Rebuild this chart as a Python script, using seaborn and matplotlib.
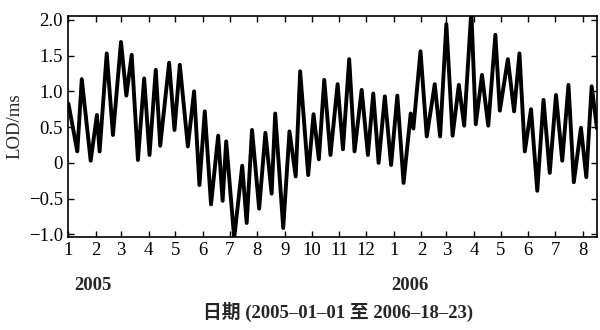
import matplotlib
matplotlib.use("Agg")
import matplotlib.pyplot as plt
import matplotlib.dates as mdates
import matplotlib.ticker as mticker
import seaborn as sns
import pandas as pd

# days since 2005-01-01 of the curve's turning points, and LOD values (ms)
days = [0, 10, 15, 25, 32, 35, 43, 50, 59, 65, 71, 78, 85, 91, 98, 103, 113, 119,
        125, 134, 141, 147, 153, 160, 168, 173, 177, 186, 195, 200, 206, 214, 221,
        228, 232, 241, 248, 255, 260, 269, 275, 281, 287, 294, 302, 308, 315, 321,
        329, 336, 342, 348, 355, 362, 369, 376, 384, 387, 395, 402, 411, 417, 424,
        431, 438, 444, 452, 457, 464, 471, 479, 484, 493, 500, 506, 512, 519, 526,
        533, 540, 547, 554, 561, 567, 575, 581, 587, 593]
lod = [0.83, 0.16, 1.17, 0.03, 0.67, 0.16, 1.53, 0.39, 1.69, 0.94, 1.51, 0.04,
       1.18, 0.11, 1.30, 0.24, 1.40, 0.46, 1.37, 0.23, 1.00, -0.31, 0.72, -0.58,
       0.38, -0.53, 0.30, -1.05, -0.04, -0.84, 0.46, -0.64, 0.42, -0.43, 0.69,
       -0.91, 0.44, -0.19, 1.28, -0.17, 0.68, 0.05, 1.16, 0.11, 1.10, 0.19, 1.45,
       0.16, 1.02, 0.11, 0.97, 0.00, 0.93, -0.03, 0.94, -0.28, 0.69, 0.48, 1.56,
       0.37, 1.10, 0.37, 1.94, 0.38, 1.09, 0.52, 2.12, 0.54, 1.23, 0.52, 1.79,
       0.73, 1.45, 0.72, 1.53, 0.16, 0.75, -0.39, 0.88, -0.14, 0.95, 0.03, 1.09,
       -0.27, 0.49, -0.20, 1.07, 0.48]

y_ticks = [-1.0, -0.5, 0, 0.5, 1.0, 1.5, 2.0]
y_tick_labels = ["\u22121.0", "\u22120.5", "0", "0.5", "1.0", "1.5", "2.0"]
year_labels = ["2005", "2006"]
x_label = "日期 (2005\u201301\u201301 至 2006\u201318\u201323)"
y_label = "LOD/ms"

start = pd.Timestamp("2005-01-01")
df = pd.DataFrame({"date": start + pd.to_timedelta(days, unit="D"), "lod": lod})

sns.set_theme(style="ticks")
plt.rcParams["font.family"] = ["Liberation Serif", "Noto Sans CJK SC", "DejaVu Sans"]
plt.rcParams["axes.unicode_minus"] = True

fig = plt.figure(figsize=(6.0, 3.3), dpi=100)
ax = fig.add_axes([0.114, 0.282, 0.881, 0.670])

sns.lineplot(data=df, x="date", y="lod", ax=ax, color="black", linewidth=2.8,
             solid_joinstyle="round", solid_capstyle="round")

ax.set_xlim(start, start + pd.Timedelta(days=593))
ax.set_ylim(-1.035, 2.055)

ax.xaxis.set_major_locator(mdates.MonthLocator())
ax.xaxis.set_major_formatter(mticker.FuncFormatter(
    lambda v, p: str(mdates.num2date(v).month)))
ax.set_yticks(y_ticks)
ax.set_yticklabels(y_tick_labels)

ax.tick_params(direction="in", length=4, width=1.0, top=True, right=True,
               labelsize=13.5, colors="black", pad=4)
for s in ax.spines.values():
    s.set_linewidth(1.2)
    s.set_color("black")

ax.set_xlabel("")
ax.set_ylabel(y_label, fontsize=13.5, labelpad=4)

fig.text(0.155, 0.136, year_labels[0], ha="center", va="center", fontsize=13.5,
         fontweight="bold")
fig.text(0.683, 0.136, year_labels[1], ha="center", va="center", fontsize=13.5,
         fontweight="bold")
fig.text(0.563, 0.055, x_label, ha="center", va="center", fontsize=13.5,
         fontweight="bold")

fig.savefig("out.png", dpi=100)
